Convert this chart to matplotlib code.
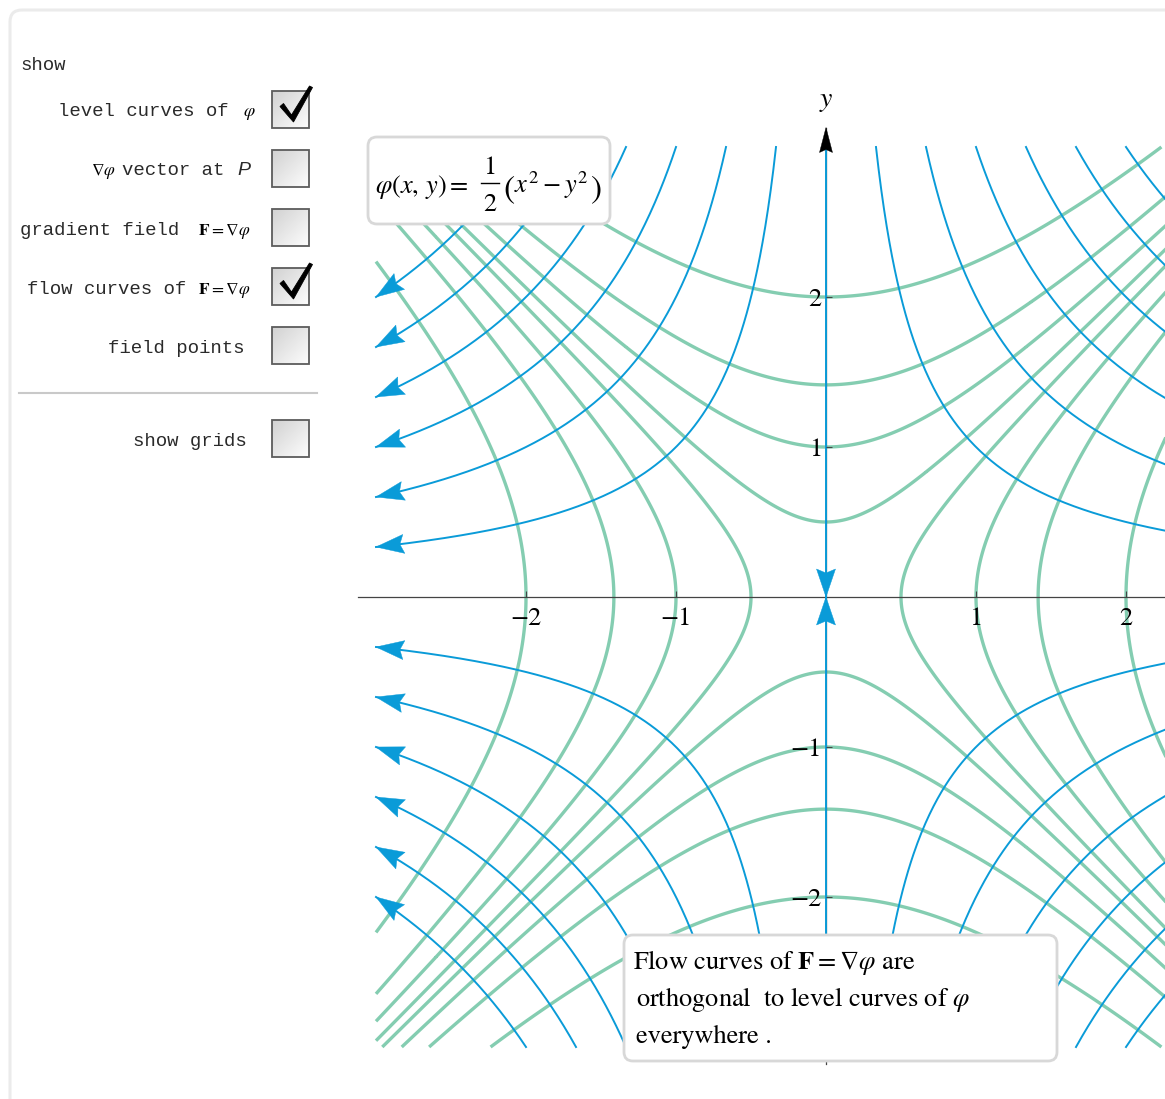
import numpy as np
import matplotlib
matplotlib.use("Agg")
import matplotlib.pyplot as plt
from matplotlib.patches import Polygon, FancyBboxPatch, Rectangle

plt.rcParams["mathtext.fontset"] = "stix"
plt.rcParams["font.family"] = ["STIXGeneral", "DejaVu Serif"]

# ---- chart data -------------------------------------------------------
level_values = [-2.0, -1.0, -0.5, -0.125, 0.125, 0.5, 1.0, 2.0]   # phi = c
flow_constants = [1, 2, 3, 4, 5, 6]                               # x*y = +-k
x_ticks = [-2, -1, 1, 2]
y_ticks = [-2, -1, 1, 2]
tick_text = ["\u22122", "\u22121", "1", "2"]
formula_lhs = r"$\varphi(x,\,y) =$"
formula_num, formula_den = "1", "2"
formula_rhs = r"$x^2 - y^2$"
note_lines = [r"Flow curves of $\mathbf{F} = \nabla\varphi$ are",
              r"orthogonal  to level curves of $\varphi$",
              "everywhere ."]
panel_title = "show"
option_labels = ["level curves of", "vector at", "gradient field",
                 "flow curves of", "field points"]
option_checked = [True, False, False, True, False]
grid_label = "show grids"
grid_checked = False

BLUE = "#0a9bd8"
GREEN = "#84cdb1"
AXIS = "#444444"

W, H = 1165, 1099
fig = plt.figure(figsize=(W / 100, H / 100), dpi=100)

# plot axes: 150 px per unit, origin at pixel (826, 597)
X0, Y0, S = 826, 597, 150
xlim = (-3.12, 3.12)
ylim = (-3.11, 3.13)
ax = fig.add_axes([(X0 + xlim[0] * S) / W,
                   (H - (Y0 - ylim[0] * S)) / H,
                   (xlim[1] - xlim[0]) * S / W,
                   (ylim[1] - ylim[0]) * S / H], zorder=1)
ax.set_xlim(*xlim)
ax.set_ylim(*ylim)
for side in ("top", "right"):
    ax.spines[side].set_visible(False)
for side in ("left", "bottom"):
    ax.spines[side].set_position(("data", 0))
    ax.spines[side].set_color(AXIS)
    ax.spines[side].set_linewidth(0.9)
ax.set_xticks(x_ticks)
ax.set_xticklabels(tick_text)
ax.set_yticks(y_ticks)
ax.set_yticklabels(tick_text)
ax.tick_params(axis="both", direction="in", length=4, width=0.8,
               color=AXIS, labelsize=19)
ax.tick_params(axis="x", pad=7)
ax.tick_params(axis="y", pad=3)
ax.xaxis.set_zorder(6)
ax.yaxis.set_zorder(6)


def arrowhead(tip, direction, length, half_width, notch, color, z):
    d = np.asarray(direction, float)
    d = d / np.hypot(*d)
    n = np.array([-d[1], d[0]])
    tip = np.asarray(tip, float)
    base = tip - d * length
    pts = [tip, base + n * half_width, tip - d * (length - notch),
           base - n * half_width]
    ax.add_patch(Polygon(pts, closed=True, fc=color, ec=color, lw=0.3,
                         zorder=z, clip_on=False))


# level curves of phi
g = np.linspace(-3, 3, 901)
GX, GY = np.meshgrid(g, g)
PHI = 0.5 * (GX ** 2 - GY ** 2)
ax.contour(GX, GY, PHI, levels=sorted(level_values), colors=GREEN,
           linewidths=2.4, linestyles="solid", zorder=2)

# flow curves x*y = const, running toward |x| = 3
AL, AW, AN = 28 / S, 9.5 / S, 4 / S
for k in flow_constants:
    xs = np.linspace(k / 3, 3, 300)
    for sx, sy in ((1, 1), (-1, 1), (-1, -1), (1, -1)):
        px, py = sx * xs, sy * k / xs
        ax.plot(px, py, color=BLUE, lw=1.4, zorder=3)
        arrowhead((px[-1], py[-1]), (px[-1], -py[-1]), AL, AW, AN, BLUE, 4)

# flow along the y axis, into the origin
for sgn in (1, -1):
    ax.plot([0, 0], [0, 3 * sgn], color=BLUE, lw=1.4, zorder=3)
    arrowhead((0, 0), (0, -sgn), AL, AW, AN, BLUE, 4)

# arrow on the y axis and its label
arrowhead((0, ylim[1]), (0, 1), 25 / S, 6.5 / S, 3 / S, "black", 5)
ax.text(0, (Y0 - 101) / S, "$y$", fontsize=20, ha="center", va="center",
        clip_on=False)

# ---- overlay in pixel coordinates: panel, boxes, frame -------------------
ui = fig.add_axes([0, 0, 1, 1], zorder=5)
ui.set_xlim(0, W)
ui.set_ylim(H, 0)
ui.axis("off")

ui.add_patch(FancyBboxPatch((10, 10), W + 60, H + 60,
                            boxstyle="round,pad=0,rounding_size=12",
                            fc="none", ec="#ebebeb", lw=2.2))

# formula box
ui.add_patch(FancyBboxPatch((368, 137), 242, 87,
                            boxstyle="round,pad=0,rounding_size=9",
                            fc="white", ec="#d8d8d8", lw=2.0))
ui.text(375, 193, formula_lhs, fontsize=19, ha="left", va="baseline")
ui.text(490, 174, formula_num, fontsize=19, ha="center", va="baseline")
ui.plot([481, 499], [182.5, 182.5], color="black", lw=1.0)
ui.text(490, 211, formula_den, fontsize=19, ha="center", va="baseline")
ui.text(503, 197, "(", fontsize=24, ha="left", va="baseline")
ui.text(514, 193, formula_rhs, fontsize=19, ha="left", va="baseline")
ui.text(590, 197, ")", fontsize=24, ha="left", va="baseline")

# note box
ui.add_patch(FancyBboxPatch((624, 935), 433, 126,
                            boxstyle="round,pad=0,rounding_size=9",
                            fc="white", ec="#d8d8d8", lw=2.0))
for i, (line, lx) in enumerate(zip(note_lines, (633, 636, 636))):
    ui.text(lx, 969 + 37 * i, line, fontsize=19, ha="left",
            va="baseline")

# control panel
MONO = dict(family=["Liberation Mono", "DejaVu Sans Mono"], fontsize=13.7,
            color="#2a2a2a", va="baseline", ha="left")
ui.text(20, 70, panel_title, **MONO)

rows_x = [58, 122, 20, 27, 108]
rows_base = [116, 175, 235, 294, 353]
box_tops = [91, 150, 209, 268, 327]
for lab, lx, by in zip(option_labels, rows_x, rows_base):
    ui.text(lx, by, lab, **MONO)

ui.text(243, rows_base[0], r"$\varphi$", fontsize=13,
        ha="left", va="baseline")
ui.text(91, rows_base[1], r"$\nabla\varphi$", fontsize=12.5,
        ha="left", va="baseline")
ui.text(237, rows_base[1], "P", family=["Liberation Sans", "DejaVu Sans"],
        style="italic", fontsize=14, ha="left", va="baseline",
        color="#2a2a2a")
for by in rows_base[2:4]:
    ui.text(198, by, r"$\mathbf{F} = \nabla\varphi$",
            fontsize=12.5, ha="left", va="baseline")

ui.plot([19, 317], [393, 393], color="#c9c9c9", lw=1.5)
ui.text(133, 446, grid_label, **MONO)

grad = np.add.outer(np.linspace(0, 1, 40), np.linspace(0, 1, 40)) / 2
grad = 0.82 + 0.17 * grad


def checkbox(top, checked):
    left, size = 272, 37
    ui.imshow(grad, cmap="gray", vmin=0, vmax=1,
              extent=(left, left + size, top + size, top),
              interpolation="bilinear", zorder=2)
    ui.add_patch(Rectangle((left, top), size, size, fc="none",
                           ec="#5c5c5c", lw=1.3, zorder=3))
    if checked:
        mark = [(8, 15.5), (11.5, 12.5), (19.5, 24), (37.5, -5),
                (40.5, -3.5), (21.5, 31)]
        ui.add_patch(Polygon([(left + u, top + v) for u, v in mark],
                             closed=True, fc="black", ec="black", lw=0.6,
                             zorder=4))


for top, chk in zip(box_tops, option_checked):
    checkbox(top, chk)
checkbox(420, grid_checked)
ui.set_xlim(0, W)
ui.set_ylim(H, 0)

fig.savefig("out.png", dpi=100)
